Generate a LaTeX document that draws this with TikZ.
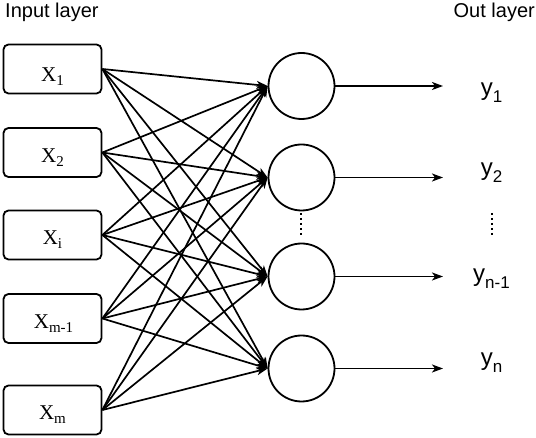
\documentclass[tikz,border=0pt]{standalone}
\usepackage{fontspec}
\setmainfont{Liberation Sans}
\newfontfamily\xserif{Liberation Serif}
\usetikzlibrary{arrows.meta}
\tikzset{
	inbox/.style={draw, line width=1.8pt, rounded corners=5pt, minimum width=98pt, minimum height=49pt},
	xtext/.style={inner sep=0pt, font=\xserif\fontsize{21}{25}\selectfont},
	neuron/.style={draw, circle, line width=1.8pt, minimum size=66pt, inner sep=0pt},
	conn/.style={line width=1.7pt, -{Stealth[length=11pt, width=8pt, inset=3pt]}},
	ytext/.style={inner sep=0pt, font=\fontsize{24}{28}\selectfont},
	head/.style={inner sep=0pt, font=\fontsize{20}{24}\selectfont},
	vdots/.style={line width=2pt, dash pattern=on 1.8pt off 3.2pt},
}
\newcommand{\xsub}[1]{X\raisebox{-4pt}{\fontsize{15}{18}\selectfont #1}}
\newcommand{\ysub}[1]{y\raisebox{-7pt}{\fontsize{17}{20}\selectfont #1}}

\begin{document}
\begin{tikzpicture}[x=1pt, y=-1pt]
		%%%%% START %%%%%
		\useasboundingbox (0, 0) rectangle (536, 438);
		
		\node[head, anchor=base west] (inhead) at (5, 18) {Input layer};
		\node[head, anchor=base east] (outhead) at (535, 18) {Out layer};
		
		% input boxes
		\node[inbox] (x1) at (52.5, 69) {};
		\node[inbox] (x2) at (52.5, 152.5) {};
		\node[inbox] (xi) at (52.5, 235) {};
		\node[inbox] (xm1) at (52.5, 318.5) {};
		\node[inbox] (xm) at (52.5, 410) {};
		\node[xtext] (tx1) at (52.5, 76.5) {\xsub{1}};
		\node[xtext] (tx2) at (52.5, 157.5) {\xsub{2}};
		\node[xtext] (txi) at (52.5, 240) {\xsub{i}};
		\node[xtext] (txm1) at (53.5, 324) {\xsub{m-1}};
		\node[xtext] (txm) at (52.5, 415) {\xsub{m}};
		
		% output neurons
		\node[neuron] (h1) at (301.5, 86) {};
		\node[neuron] (h2) at (301.5, 177.5) {};
		\node[neuron] (h3) at (301.5, 276.5) {};
		\node[neuron] (h4) at (301.5, 368.5) {};
		
		\draw[conn] (x1.east) -- (h1.west);
		\draw[conn] (x1.east) -- (h2.west);
		\draw[conn] (x1.east) -- (h3.west);
		\draw[conn] (x1.east) -- (h4.west);
		\draw[conn] (x2.east) -- (h1.west);
		\draw[conn] (x2.east) -- (h2.west);
		\draw[conn] (x2.east) -- (h3.west);
		\draw[conn] (x2.east) -- (h4.west);
		\draw[conn] (xi.east) -- (h1.west);
		\draw[conn] (xi.east) -- (h2.west);
		\draw[conn] (xi.east) -- (h3.west);
		\draw[conn] (xi.east) -- (h4.west);
		\draw[conn] (xm1.east) -- (h1.west);
		\draw[conn] (xm1.east) -- (h2.west);
		\draw[conn] (xm1.east) -- (h3.west);
		\draw[conn] (xm1.east) -- (h4.west);
		\draw[conn] (xm.east) -- (h1.west);
		\draw[conn] (xm.east) -- (h2.west);
		\draw[conn] (xm.east) -- (h3.west);
		\draw[conn] (xm.east) -- (h4.west);
		
		% outputs
		\coordinate (o1) at (443, 86);
		\coordinate (o2) at (443, 177.5);
		\coordinate (o3) at (443, 276.5);
		\coordinate (o4) at (443, 368.5);
		\draw[conn] (h1.east) -- (o1);
		\draw[conn] (h2.east) -- (o2);
		\draw[conn] (h3.east) -- (o3);
		\draw[conn] (h4.east) -- (o4);
		\node[ytext] (y1) at (491.5, 92.5) {\ysub{1}};
		\node[ytext] (y2) at (491.5, 172.5) {\ysub{2}};
		\node[ytext] (yn1) at (491.5, 278.5) {\ysub{n-1}};
		\node[ytext] (yn) at (491.5, 362.5) {\ysub{n}};
		
		\draw[vdots] (301, 213) -- (301, 236);
		\draw[vdots] (492, 213) -- (492, 236);
		%%%%% END %%%%%
	\end{tikzpicture}
\end{document}
